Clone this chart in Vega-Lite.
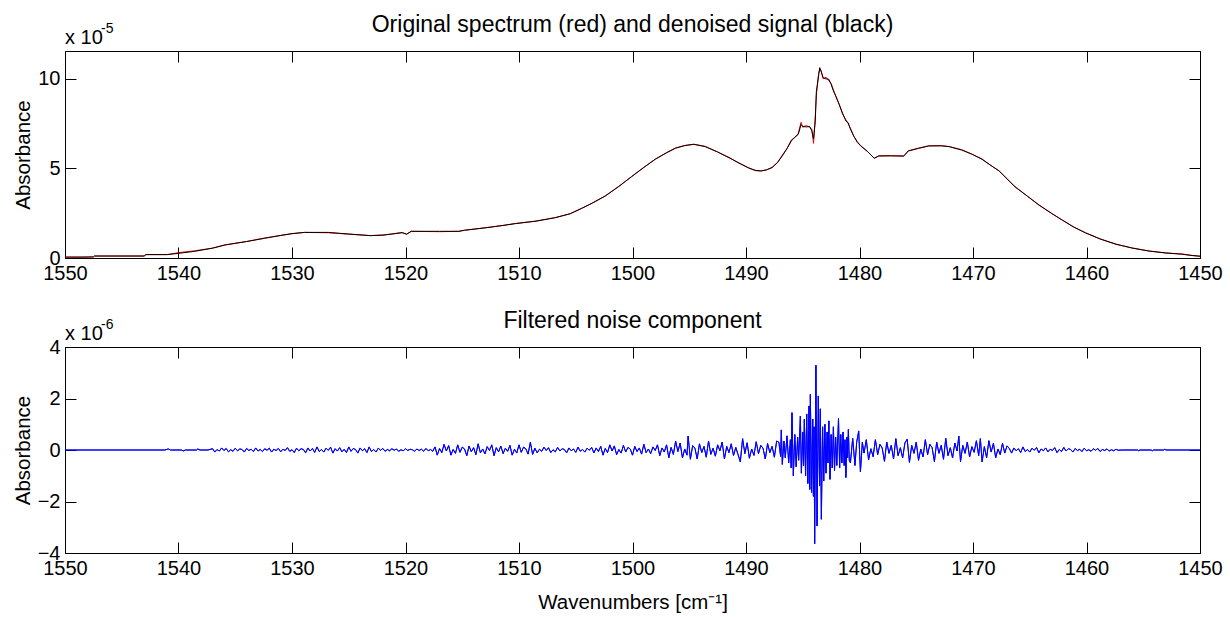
{
  "$schema": "https://vega.github.io/schema/vega-lite/v6.json",
  "background": "white",
  "padding": {"left": 12, "top": 13, "right": 5, "bottom": 2},
  "spacing": 89,
  "bounds": "flush",
  "config": {
    "font": "Liberation Sans",
    "view": {"stroke": "black", "strokeWidth": 1},
    "axis": {
      "grid": false,
      "domain": false,
      "tickColor": "black",
      "tickSize": -11,
      "labelFontSize": 20,
      "labelColor": "black",
      "labelFont": "Liberation Sans",
      "titleFont": "Liberation Sans",
      "titleFontSize": 20.5,
      "titleFontWeight": "normal",
      "titleColor": "black",
      "labelFlush": false,
      "labelOverlap": false,
      "format": "d"
    },
    "axisX": {"labelPadding": 16},
    "axisY": {"labelPadding": 16},
    "title": {
      "font": "Liberation Sans",
      "fontSize": 23,
      "fontWeight": "normal",
      "color": "black",
      "frame": "group",
      "anchor": "middle",
      "offset": -15
    }
  },
  "datasets": {
    "spec": [
      {"w": 1550, "d": 0.05, "o": 0.05},
      {"w": 1548.5, "d": 0.05, "o": 0.05},
      {"w": 1547.5, "d": 0.06, "o": 0.06},
      {"w": 1547.4, "d": 0.11, "o": 0.11},
      {"w": 1543, "d": 0.11, "o": 0.11},
      {"w": 1542.9, "d": 0.19, "o": 0.19},
      {"w": 1541, "d": 0.19, "o": 0.19},
      {"w": 1540, "d": 0.26, "o": 0.3},
      {"w": 1538.6, "d": 0.37, "o": 0.4},
      {"w": 1537, "d": 0.55, "o": 0.55},
      {"w": 1535.9, "d": 0.73, "o": 0.73},
      {"w": 1534, "d": 0.92, "o": 0.92},
      {"w": 1532.4, "d": 1.1, "o": 1.12},
      {"w": 1531, "d": 1.26, "o": 1.26},
      {"w": 1530, "d": 1.36, "o": 1.36},
      {"w": 1528.9, "d": 1.43, "o": 1.43},
      {"w": 1526.8, "d": 1.43, "o": 1.41},
      {"w": 1525, "d": 1.34, "o": 1.33},
      {"w": 1523.1, "d": 1.25, "o": 1.25},
      {"w": 1522, "d": 1.27, "o": 1.29},
      {"w": 1521.2, "d": 1.34, "o": 1.34},
      {"w": 1520.3, "d": 1.41, "o": 1.43},
      {"w": 1519.9, "d": 1.33, "o": 1.33},
      {"w": 1519.5, "d": 1.49, "o": 1.49},
      {"w": 1517, "d": 1.49, "o": 1.47},
      {"w": 1515.3, "d": 1.49, "o": 1.49},
      {"w": 1514.8, "d": 1.55, "o": 1.55},
      {"w": 1513, "d": 1.68, "o": 1.69},
      {"w": 1511.5, "d": 1.81, "o": 1.81},
      {"w": 1510.3, "d": 1.92, "o": 1.93},
      {"w": 1508.5, "d": 2.06, "o": 2.06},
      {"w": 1506.8, "d": 2.25, "o": 2.26},
      {"w": 1505.5, "d": 2.47, "o": 2.47},
      {"w": 1504.5, "d": 2.77, "o": 2.76},
      {"w": 1503.5, "d": 3.08, "o": 3.08},
      {"w": 1502.4, "d": 3.46, "o": 3.47},
      {"w": 1501.2, "d": 4.0, "o": 4.0},
      {"w": 1500.1, "d": 4.53, "o": 4.54},
      {"w": 1499, "d": 5.06, "o": 5.06},
      {"w": 1498, "d": 5.51, "o": 5.52},
      {"w": 1497, "d": 5.88, "o": 5.88},
      {"w": 1496.2, "d": 6.13, "o": 6.15},
      {"w": 1495.4, "d": 6.28, "o": 6.28},
      {"w": 1494.6, "d": 6.35, "o": 6.35},
      {"w": 1493.6, "d": 6.22, "o": 6.24},
      {"w": 1492.5, "d": 5.92, "o": 5.92},
      {"w": 1491.5, "d": 5.6, "o": 5.62},
      {"w": 1490.7, "d": 5.33, "o": 5.33},
      {"w": 1489.8, "d": 5.04, "o": 5.04},
      {"w": 1489.2, "d": 4.9, "o": 4.88},
      {"w": 1488.7, "d": 4.86, "o": 4.86},
      {"w": 1488.2, "d": 4.92, "o": 4.92},
      {"w": 1487.7, "d": 5.05, "o": 5.06},
      {"w": 1487.2, "d": 5.35, "o": 5.35},
      {"w": 1486.8, "d": 5.7, "o": 5.75},
      {"w": 1486.4, "d": 6.1, "o": 6.1},
      {"w": 1486.0, "d": 6.54, "o": 6.6},
      {"w": 1485.7, "d": 6.75, "o": 6.72},
      {"w": 1485.4, "d": 6.9, "o": 6.95},
      {"w": 1485.15, "d": 7.45, "o": 7.58},
      {"w": 1485.0, "d": 7.35, "o": 7.3},
      {"w": 1484.7, "d": 7.32, "o": 7.4},
      {"w": 1484.4, "d": 7.35, "o": 7.3},
      {"w": 1484.2, "d": 7.1, "o": 7.2},
      {"w": 1484.05, "d": 6.65, "o": 6.4},
      {"w": 1483.9, "d": 7.6, "o": 7.9},
      {"w": 1483.8, "d": 9.3, "o": 9.1},
      {"w": 1483.6, "d": 10.2, "o": 10.3},
      {"w": 1483.5, "d": 10.63, "o": 10.55},
      {"w": 1483.4, "d": 10.45, "o": 10.5},
      {"w": 1483.2, "d": 10.07, "o": 10.0},
      {"w": 1482.95, "d": 10.0, "o": 10.1},
      {"w": 1482.7, "d": 9.98, "o": 9.9},
      {"w": 1482.5, "d": 9.7, "o": 9.75},
      {"w": 1482.3, "d": 9.33, "o": 9.4},
      {"w": 1482.05, "d": 9.0, "o": 8.95},
      {"w": 1481.8, "d": 8.58, "o": 8.62},
      {"w": 1481.5, "d": 8.1, "o": 8.05},
      {"w": 1481.2, "d": 7.65, "o": 7.72},
      {"w": 1481.0, "d": 7.56, "o": 7.5},
      {"w": 1480.8, "d": 7.2, "o": 7.25},
      {"w": 1480.5, "d": 6.8, "o": 6.8},
      {"w": 1480.2, "d": 6.5, "o": 6.45},
      {"w": 1479.9, "d": 6.26, "o": 6.28},
      {"w": 1479.3, "d": 5.95, "o": 5.95},
      {"w": 1478.7, "d": 5.57, "o": 5.57},
      {"w": 1478.3, "d": 5.7, "o": 5.7},
      {"w": 1477.2, "d": 5.7, "o": 5.72},
      {"w": 1476.1, "d": 5.7, "o": 5.68},
      {"w": 1475.7, "d": 5.98, "o": 5.98},
      {"w": 1474.8, "d": 6.12, "o": 6.14},
      {"w": 1473.9, "d": 6.26, "o": 6.26},
      {"w": 1472.8, "d": 6.26, "o": 6.28},
      {"w": 1472.1, "d": 6.22, "o": 6.22},
      {"w": 1471.0, "d": 6.03, "o": 6.05},
      {"w": 1470.1, "d": 5.8, "o": 5.8},
      {"w": 1469.2, "d": 5.51, "o": 5.53},
      {"w": 1468.5, "d": 5.2, "o": 5.2},
      {"w": 1467.7, "d": 4.86, "o": 4.87},
      {"w": 1467.0, "d": 4.42, "o": 4.42},
      {"w": 1466.3, "d": 3.97, "o": 3.99},
      {"w": 1465.2, "d": 3.45, "o": 3.45},
      {"w": 1464.2, "d": 2.96, "o": 2.97},
      {"w": 1463.1, "d": 2.5, "o": 2.5},
      {"w": 1462.1, "d": 2.1, "o": 2.11},
      {"w": 1461.1, "d": 1.72, "o": 1.72},
      {"w": 1460.1, "d": 1.41, "o": 1.41},
      {"w": 1458.8, "d": 1.06, "o": 1.07},
      {"w": 1457.4, "d": 0.77, "o": 0.77},
      {"w": 1456, "d": 0.56, "o": 0.56},
      {"w": 1454.5, "d": 0.39, "o": 0.39},
      {"w": 1453, "d": 0.28, "o": 0.28},
      {"w": 1451.6, "d": 0.21, "o": 0.23},
      {"w": 1450.7, "d": 0.14, "o": 0.14},
      {"w": 1450, "d": 0.1, "o": 0.1}
    ],
    "noise": [
      {"w": 1550, "n": 0}, {"w": 1541.2, "n": 0}, {"w": 1540.9, "n": 0.04}, {"w": 1540.7, "n": 0},
      {"w": 1539.7, "n": 0}, {"w": 1539.6, "n": -0.04}, {"w": 1539.4, "n": 0}, {"w": 1538.4, "n": 0},
      {"w": 1538.3, "n": 0.04}, {"w": 1538.1, "n": 0}, {"w": 1537.4, "n": 0},
      {"w": 1537.0, "n": 0.05}, {"w": 1536.8, "n": -0.08}, {"w": 1536.6, "n": 0.02}, {"w": 1536.4, "n": -0.04},
      {"w": 1536.2, "n": 0.08}, {"w": 1536.0, "n": -0.02}, {"w": 1535.8, "n": 0.06}, {"w": 1535.6, "n": -0.07},
      {"w": 1535.4, "n": 0.01}, {"w": 1535.2, "n": -0.05}, {"w": 1535.0, "n": 0.07}, {"w": 1534.8, "n": -0.03},
      {"w": 1534.6, "n": 0.04}, {"w": 1534.4, "n": 0.02}, {"w": 1534.2, "n": -0.08}, {"w": 1534.0, "n": 0.06},
      {"w": 1533.8, "n": -0.02}, {"w": 1533.6, "n": 0.03}, {"w": 1533.4, "n": -0.06}, {"w": 1533.2, "n": 0.08},
      {"w": 1533.0, "n": -0.04}, {"w": 1532.8, "n": 0.02}, {"w": 1532.6, "n": -0.06}, {"w": 1532.4, "n": 0.05},
      {"w": 1532.2, "n": -0.01}, {"w": 1532.0, "n": 0.07}, {"w": 1531.8, "n": -0.08}, {"w": 1531.6, "n": 0.03},
      {"w": 1531.4, "n": -0.02}, {"w": 1531.2, "n": 0.06}, {"w": 1531.0, "n": -0.07}, {"w": 1530.8, "n": 0.03},
      {"w": 1530.6, "n": -0.02}, {"w": 1530.4, "n": 0.09}, {"w": 1530.2, "n": -0.05}, {"w": 1530.0, "n": 0.01},
      {"w": 1529.8, "n": -0.1}, {"w": 1529.6, "n": 0.07}, {"w": 1529.4, "n": -0.03}, {"w": 1529.2, "n": 0.05},
      {"w": 1529.0, "n": 0.02}, {"w": 1528.8, "n": -0.11}, {"w": 1528.6, "n": 0.08}, {"w": 1528.4, "n": -0.04},
      {"w": 1528.2, "n": 0.06}, {"w": 1528.0, "n": -0.09}, {"w": 1527.8, "n": 0.12}, {"w": 1527.6, "n": -0.06},
      {"w": 1527.4, "n": 0.02}, {"w": 1527.2, "n": -0.08}, {"w": 1527.0, "n": 0.07}, {"w": 1526.8, "n": -0.01},
      {"w": 1526.6, "n": 0.11}, {"w": 1526.4, "n": -0.12}, {"w": 1526.2, "n": 0.05}, {"w": 1526.0, "n": -0.04},
      {"w": 1525.8, "n": 0.09}, {"w": 1525.6, "n": -0.07}, {"w": 1525.4, "n": 0.03}, {"w": 1525.2, "n": -0.1},
      {"w": 1525.0, "n": 0.12}, {"w": 1524.8, "n": -0.05}, {"w": 1524.6, "n": 0.06}, {"w": 1524.4, "n": 0.02},
      {"w": 1524.2, "n": -0.12}, {"w": 1524.0, "n": 0.08}, {"w": 1523.8, "n": -0.03}, {"w": 1523.6, "n": 0.05},
      {"w": 1523.4, "n": -0.1}, {"w": 1523.2, "n": 0.12}, {"w": 1523.0, "n": -0.06}, {"w": 1522.8, "n": 0.02},
      {"w": 1522.6, "n": -0.08}, {"w": 1522.4, "n": 0.07}, {"w": 1522.2, "n": -0.01},
      {"w": 1522.0, "n": 0.06}, {"w": 1521.8, "n": -0.05}, {"w": 1521.6, "n": 0.02}, {"w": 1521.4, "n": -0.03},
      {"w": 1521.2, "n": 0.05}, {"w": 1521.0, "n": -0.01}, {"w": 1520.8, "n": 0.04}, {"w": 1520.6, "n": -0.05},
      {"w": 1520.4, "n": 0.01}, {"w": 1520.2, "n": -0.03}, {"w": 1520.0, "n": 0.05}, {"w": 1519.8, "n": -0.02},
      {"w": 1519.6, "n": 0.03}, {"w": 1519.4, "n": 0.01}, {"w": 1519.2, "n": -0.05}, {"w": 1519.0, "n": 0.04},
      {"w": 1518.8, "n": -0.02}, {"w": 1518.6, "n": 0.03}, {"w": 1518.4, "n": -0.05}, {"w": 1518.2, "n": 0.06},
      {"w": 1518.0, "n": -0.03}, {"w": 1517.8, "n": 0.02}, {"w": 1517.6, "n": -0.05},
      {"w": 1517.4, "n": 0.12}, {"w": 1517.2, "n": -0.2}, {"w": 1517.0, "n": 0.06}, {"w": 1516.8, "n": -0.1},
      {"w": 1516.6, "n": 0.22}, {"w": 1516.4, "n": -0.04}, {"w": 1516.2, "n": 0.17}, {"w": 1516.0, "n": -0.2},
      {"w": 1515.8, "n": 0.02}, {"w": 1515.6, "n": -0.13}, {"w": 1515.4, "n": 0.2}, {"w": 1515.2, "n": -0.09},
      {"w": 1515.0, "n": 0.11}, {"w": 1514.8, "n": 0.04}, {"w": 1514.6, "n": -0.22}, {"w": 1514.4, "n": 0.15},
      {"w": 1514.2, "n": -0.07}, {"w": 1514.0, "n": 0.09}, {"w": 1513.8, "n": -0.18}, {"w": 1513.6, "n": 0.24},
      {"w": 1513.4, "n": -0.11}, {"w": 1513.2, "n": 0.04}, {"w": 1513.0, "n": -0.15}, {"w": 1512.8, "n": 0.13},
      {"w": 1512.6, "n": -0.02}, {"w": 1512.4, "n": 0.2}, {"w": 1512.2, "n": -0.22}, {"w": 1512.0, "n": 0.09},
      {"w": 1511.8, "n": -0.07}, {"w": 1511.6, "n": 0.15}, {"w": 1511.4, "n": -0.14}, {"w": 1511.2, "n": 0.07},
      {"w": 1511.0, "n": -0.05}, {"w": 1510.8, "n": 0.18}, {"w": 1510.6, "n": -0.2}, {"w": 1510.4, "n": 0.03},
      {"w": 1510.2, "n": -0.12}, {"w": 1510.0, "n": 0.2}, {"w": 1509.8, "n": -0.09}, {"w": 1509.6, "n": 0.11},
      {"w": 1509.4, "n": 0.05}, {"w": 1509.2, "n": -0.16}, {"w": 1509.0, "n": 0.3}, {"w": 1508.8, "n": -0.17},
      {"w": 1508.6, "n": 0.07}, {"w": 1508.4, "n": -0.11}, {"w": 1508.2, "n": 0.03}, {"w": 1508.0, "n": -0.05},
      {"w": 1507.8, "n": 0.11}, {"w": 1507.6, "n": -0.02}, {"w": 1507.4, "n": 0.09}, {"w": 1507.2, "n": -0.1},
      {"w": 1507.0, "n": 0.01}, {"w": 1506.8, "n": -0.07}, {"w": 1506.6, "n": 0.1}, {"w": 1506.4, "n": -0.04},
      {"w": 1506.2, "n": 0.05}, {"w": 1506.0, "n": 0.02}, {"w": 1505.8, "n": -0.11}, {"w": 1505.6, "n": 0.08},
      {"w": 1505.4, "n": -0.03}, {"w": 1505.2, "n": 0.04}, {"w": 1505.0, "n": -0.09}, {"w": 1504.8, "n": 0.11},
      {"w": 1504.6, "n": -0.05}, {"w": 1504.4, "n": 0.02}, {"w": 1504.2, "n": -0.08}, {"w": 1504.0, "n": 0.07},
      {"w": 1503.8, "n": -0.01}, {"w": 1503.6, "n": 0.1}, {"w": 1503.4, "n": -0.11},
      {"w": 1503.2, "n": 0.08}, {"w": 1503.0, "n": -0.06}, {"w": 1502.8, "n": 0.14}, {"w": 1502.6, "n": -0.2},
      {"w": 1502.4, "n": 0.06}, {"w": 1502.2, "n": -0.1}, {"w": 1502.0, "n": 0.2}, {"w": 1501.8, "n": -0.04},
      {"w": 1501.6, "n": 0.16}, {"w": 1501.4, "n": -0.18}, {"w": 1501.2, "n": 0.02}, {"w": 1501.0, "n": -0.12},
      {"w": 1500.8, "n": 0.18}, {"w": 1500.6, "n": -0.08}, {"w": 1500.4, "n": 0.1}, {"w": 1500.2, "n": 0.04},
      {"w": 1500.0, "n": -0.2}, {"w": 1499.8, "n": 0.14}, {"w": 1499.6, "n": -0.06}, {"w": 1499.4, "n": 0.08},
      {"w": 1499.2, "n": -0.16}, {"w": 1499.0, "n": 0.22}, {"w": 1498.8, "n": -0.1}, {"w": 1498.6, "n": 0.04},
      {"w": 1498.4, "n": -0.14}, {"w": 1498.2, "n": 0.12}, {"w": 1498.0, "n": -0.02}, {"w": 1497.8, "n": 0.2},
      {"w": 1497.6, "n": -0.22}, {"w": 1497.4, "n": 0.08},
      {"w": 1497.2, "n": -0.08}, {"w": 1497.0, "n": 0.2}, {"w": 1496.8, "n": -0.3}, {"w": 1496.6, "n": 0.1},
      {"w": 1496.4, "n": -0.17}, {"w": 1496.2, "n": 0.34}, {"w": 1496.0, "n": -0.06}, {"w": 1495.8, "n": 0.27},
      {"w": 1495.6, "n": -0.31}, {"w": 1495.4, "n": 0.04}, {"w": 1495.2, "n": -0.2}, {"w": 1495.1, "n": 0.54},
      {"w": 1494.9, "n": -0.36}, {"w": 1494.7, "n": 0.17}, {"w": 1494.5, "n": 0.07}, {"w": 1494.3, "n": -0.35},
      {"w": 1494.1, "n": 0.24}, {"w": 1493.9, "n": -0.1}, {"w": 1493.7, "n": 0.14}, {"w": 1493.5, "n": -0.28},
      {"w": 1493.3, "n": 0.35}, {"w": 1493.1, "n": -0.17}, {"w": 1492.9, "n": 0.07}, {"w": 1492.7, "n": -0.24},
      {"w": 1492.5, "n": 0.2}, {"w": 1492.3, "n": -0.03}, {"w": 1492.1, "n": 0.31}, {"w": 1491.9, "n": -0.35},
      {"w": 1491.7, "n": 0.14}, {"w": 1491.5, "n": -0.1}, {"w": 1491.3, "n": 0.24}, {"w": 1491.1, "n": -0.21},
      {"w": 1490.9, "n": 0.1}, {"w": 1490.7, "n": -0.18}, {"w": 1490.5, "n": -0.46}, {"w": 1490.3, "n": 0.44},
      {"w": 1490.1, "n": -0.14}, {"w": 1489.9, "n": 0.28}, {"w": 1489.7, "n": -0.32}, {"w": 1489.5, "n": 0.04},
      {"w": 1489.3, "n": -0.21}, {"w": 1489.1, "n": 0.32}, {"w": 1488.9, "n": -0.14}, {"w": 1488.7, "n": 0.18},
      {"w": 1488.5, "n": 0.07}, {"w": 1488.3, "n": -0.35}, {"w": 1488.1, "n": 0.25}, {"w": 1487.9, "n": -0.1},
      {"w": 1487.7, "n": 0.14}, {"w": 1487.5, "n": -0.28}, {"w": 1487.3, "n": 0.35},
      {"w": 1487.1, "n": 0.3}, {"w": 1486.95, "n": -0.25}, {"w": 1486.89, "n": 0.78}, {"w": 1486.8, "n": -0.56},
      {"w": 1486.66, "n": 0.35}, {"w": 1486.54, "n": -0.3}, {"w": 1486.39, "n": 0.55}, {"w": 1486.24, "n": -0.5},
      {"w": 1486.09, "n": 0.4}, {"w": 1486.02, "n": -0.7}, {"w": 1485.95, "n": 1.45}, {"w": 1485.83, "n": -1.0},
      {"w": 1485.7, "n": 0.6}, {"w": 1485.58, "n": -0.65}, {"w": 1485.45, "n": 0.5}, {"w": 1485.36, "n": -0.4},
      {"w": 1485.21, "n": 1.32}, {"w": 1485.12, "n": -0.9}, {"w": 1485.0, "n": 0.7}, {"w": 1484.93, "n": -0.6},
      {"w": 1484.86, "n": 1.19}, {"w": 1484.75, "n": -1.0}, {"w": 1484.65, "n": 1.4}, {"w": 1484.55, "n": -1.3},
      {"w": 1484.45, "n": 1.71}, {"w": 1484.38, "n": -1.53}, {"w": 1484.33, "n": 2.16}, {"w": 1484.22, "n": -1.65},
      {"w": 1484.12, "n": 1.2}, {"w": 1484.06, "n": -1.8}, {"w": 1484.0, "n": 0.9}, {"w": 1483.95, "n": -3.64},
      {"w": 1483.84, "n": 3.29}, {"w": 1483.74, "n": -2.95}, {"w": 1483.63, "n": 2.1}, {"w": 1483.52, "n": -1.4},
      {"w": 1483.45, "n": 1.6}, {"w": 1483.36, "n": -2.69}, {"w": 1483.25, "n": 0.9}, {"w": 1483.15, "n": -1.2},
      {"w": 1483.05, "n": 1.0}, {"w": 1482.95, "n": -0.9}, {"w": 1482.85, "n": 0.7}, {"w": 1482.78, "n": -0.5},
      {"w": 1482.7, "n": 1.13}, {"w": 1482.6, "n": -1.14}, {"w": 1482.5, "n": 0.6}, {"w": 1482.4, "n": -0.7},
      {"w": 1482.3, "n": 0.9}, {"w": 1482.2, "n": -0.8}, {"w": 1482.1, "n": 0.5}, {"w": 1482.0, "n": -0.6},
      {"w": 1481.85, "n": 1.22}, {"w": 1481.75, "n": -0.7}, {"w": 1481.65, "n": 0.6}, {"w": 1481.55, "n": -0.5},
      {"w": 1481.45, "n": 0.7}, {"w": 1481.35, "n": -0.6}, {"w": 1481.28, "n": 0.4}, {"w": 1481.2, "n": -1.07},
      {"w": 1481.1, "n": 0.5}, {"w": 1481.05, "n": -0.3}, {"w": 1480.98, "n": 0.8}, {"w": 1480.9, "n": -0.4},
      {"w": 1480.8, "n": -0.5}, {"w": 1480.6, "n": 0.45}, {"w": 1480.4, "n": -0.6}, {"w": 1480.25, "n": 0.3},
      {"w": 1480.07, "n": 0.74}, {"w": 1479.92, "n": -0.85}, {"w": 1479.75, "n": 0.3}, {"w": 1479.6, "n": -0.12},
      {"w": 1479.4, "n": 0.4}, {"w": 1479.2, "n": -0.38}, {"w": 1479.0, "n": 0.05}, {"w": 1478.8, "n": -0.26},
      {"w": 1478.6, "n": 0.4}, {"w": 1478.4, "n": -0.18}, {"w": 1478.2, "n": 0.22}, {"w": 1478.0, "n": 0.08},
      {"w": 1477.8, "n": -0.44}, {"w": 1477.6, "n": 0.31}, {"w": 1477.4, "n": -0.13}, {"w": 1477.2, "n": 0.18},
      {"w": 1477.0, "n": -0.35}, {"w": 1476.8, "n": 0.44}, {"w": 1476.6, "n": -0.22}, {"w": 1476.4, "n": 0.09},
      {"w": 1476.2, "n": -0.31}, {"w": 1476.0, "n": 0.27}, {"w": 1475.8, "n": 0.42}, {"w": 1475.6, "n": -0.48},
      {"w": 1475.4, "n": 0.18}, {"w": 1475.2, "n": -0.13}, {"w": 1475.0, "n": 0.31}, {"w": 1474.8, "n": -0.4},
      {"w": 1474.6, "n": 0.04}, {"w": 1474.4, "n": -0.27}, {"w": 1474.2, "n": 0.4}, {"w": 1474.0, "n": -0.18},
      {"w": 1473.8, "n": 0.22}, {"w": 1473.6, "n": 0.09}, {"w": 1473.4, "n": -0.45}, {"w": 1473.2, "n": 0.31},
      {"w": 1473.0, "n": -0.13}, {"w": 1472.8, "n": 0.18}, {"w": 1472.6, "n": -0.36}, {"w": 1472.4, "n": 0.45},
      {"w": 1472.2, "n": -0.22}, {"w": 1472.0, "n": 0.09}, {"w": 1471.8, "n": -0.31}, {"w": 1471.6, "n": 0.27},
      {"w": 1471.4, "n": -0.04}, {"w": 1471.25, "n": 0.54}, {"w": 1471.1, "n": -0.45}, {"w": 1470.9, "n": 0.18},
      {"w": 1470.7, "n": -0.13}, {"w": 1470.5, "n": 0.31}, {"w": 1470.3, "n": -0.27}, {"w": 1470.1, "n": 0.13},
      {"w": 1469.9, "n": -0.09}, {"w": 1469.7, "n": 0.36}, {"w": 1469.5, "n": -0.22}, {"w": 1469.35, "n": 0.44},
      {"w": 1469.2, "n": -0.46}, {"w": 1469.0, "n": 0.13}, {"w": 1468.8, "n": -0.3}, {"w": 1468.6, "n": 0.36},
      {"w": 1468.4, "n": -0.08}, {"w": 1468.2, "n": 0.26}, {"w": 1468.0, "n": -0.3}, {"w": 1467.8, "n": 0.04},
      {"w": 1467.6, "n": -0.18}, {"w": 1467.4, "n": 0.26}, {"w": 1467.2, "n": -0.12}, {"w": 1467.0, "n": 0.16},
      {"w": 1466.8, "n": 0.06},
      {"w": 1466.6, "n": -0.12}, {"w": 1466.4, "n": 0.08}, {"w": 1466.2, "n": -0.03}, {"w": 1466.0, "n": 0.05},
      {"w": 1465.8, "n": -0.1}, {"w": 1465.6, "n": 0.12}, {"w": 1465.4, "n": -0.06}, {"w": 1465.2, "n": 0.02},
      {"w": 1465.0, "n": -0.08}, {"w": 1464.8, "n": 0.07}, {"w": 1464.6, "n": -0.01}, {"w": 1464.4, "n": 0.1},
      {"w": 1464.2, "n": -0.11}, {"w": 1464.0, "n": 0.04}, {"w": 1463.8, "n": -0.03}, {"w": 1463.6, "n": 0.08},
      {"w": 1463.4, "n": -0.07}, {"w": 1463.2, "n": 0.03}, {"w": 1463.0, "n": -0.02}, {"w": 1462.8, "n": 0.09},
      {"w": 1462.6, "n": -0.1}, {"w": 1462.4, "n": 0.02}, {"w": 1462.2, "n": -0.06}, {"w": 1462.0, "n": 0.1},
      {"w": 1461.8, "n": -0.04}, {"w": 1461.6, "n": 0.05}, {"w": 1461.4, "n": 0.02}, {"w": 1461.2, "n": -0.08},
      {"w": 1461.0, "n": 0.06}, {"w": 1460.8, "n": -0.02}, {"w": 1460.6, "n": 0.03}, {"w": 1460.4, "n": -0.06},
      {"w": 1460.2, "n": 0.07}, {"w": 1460.0, "n": -0.03}, {"w": 1459.8, "n": 0.01}, {"w": 1459.6, "n": -0.05},
      {"w": 1459.4, "n": 0.05}, {"w": 1459.2, "n": -0.01}, {"w": 1459.0, "n": 0.06}, {"w": 1458.8, "n": -0.06},
      {"w": 1458.6, "n": 0.02}, {"w": 1458.4, "n": -0.02}, {"w": 1458.2, "n": 0.04}, {"w": 1458.0, "n": -0.04},
      {"w": 1457.8, "n": 0.01}, {"w": 1457.6, "n": -0.03}, {"w": 1457.4, "n": 0.03}, {"w": 1457.2, "n": -0.01},
      {"w": 1456.9, "n": 0}, {"w": 1455.5, "n": 0}, {"w": 1455.4, "n": -0.03}, {"w": 1455.3, "n": 0},
      {"w": 1454.3, "n": 0}, {"w": 1454.2, "n": -0.03}, {"w": 1454.1, "n": 0}, {"w": 1453.2, "n": 0},
      {"w": 1453.1, "n": 0.03}, {"w": 1453.0, "n": 0}, {"w": 1450, "n": 0}
    ]
  },
  "vconcat": [
    {
      "width": 1135,
      "height": 207,
      "title": {"text": "Original spectrum (red) and denoised signal (black)"},
      "layer": [
        {
          "data": {"name": "spec"},
          "mark": {"type": "line", "color": "#ff0000", "strokeWidth": 1},
          "encoding": {
            "x": {"field": "w", "type": "quantitative", "scale": {"domain": [1450, 1550], "reverse": true, "nice": false, "zero": false},
                  "axis": {"orient": "bottom", "values": [1550, 1540, 1530, 1520, 1510, 1500, 1490, 1480, 1470, 1460, 1450], "title": null}},
            "y": {"field": "o", "type": "quantitative", "scale": {"domain": [0, 11.56], "nice": false, "zero": false},
                  "axis": {"orient": "left", "values": [0, 5, 10], "title": "Absorbance", "titlePadding": 4}}
          }
        },
        {
          "data": {"name": "spec"},
          "mark": {"type": "line", "color": "#000000", "strokeWidth": 1},
          "encoding": {
            "x": {"field": "w", "type": "quantitative", "axis": {"orient": "top", "values": [1550, 1540, 1530, 1520, 1510, 1500, 1490, 1480, 1470, 1460, 1450], "labels": false, "title": null}},
            "y": {"field": "d", "type": "quantitative", "axis": {"orient": "right", "values": [0, 5, 10], "labels": false, "title": null}}
          }
        },
        {
          "data": {"values": [{"t": "x 10"}]},
          "mark": {"type": "text", "align": "left", "baseline": "alphabetic", "fontSize": 20, "dy": -7, "color": "black"},
          "encoding": {
            "text": {"field": "t"},
            "x": {"datum": 1550, "type": "quantitative", "axis": null},
            "y": {"datum": 11.56, "type": "quantitative", "axis": null}
          }
        },
        {
          "data": {"values": [{"t": "-5"}]},
          "mark": {"type": "text", "align": "left", "baseline": "alphabetic", "fontSize": 14, "dx": 36, "dy": -18, "color": "black"},
          "encoding": {
            "text": {"field": "t"},
            "x": {"datum": 1550, "type": "quantitative", "axis": null},
            "y": {"datum": 11.56, "type": "quantitative", "axis": null}
          }
        }
      ],
      "resolve": {"axis": {"x": "independent", "y": "independent"}}
    },
    {
      "width": 1135,
      "height": 206,
      "title": {"text": "Filtered noise component"},
      "layer": [
        {
          "data": {"name": "noise"},
          "mark": {"type": "line", "color": "#0000ff", "strokeWidth": 1},
          "encoding": {
            "x": {"field": "w", "type": "quantitative", "scale": {"domain": [1450, 1550], "reverse": true, "nice": false, "zero": false},
                  "axis": {"orient": "bottom", "values": [1550, 1540, 1530, 1520, 1510, 1500, 1490, 1480, 1470, 1460, 1450], "title": "Wavenumbers [cm⁻¹]", "titlePadding": 14}},
            "y": {"field": "n", "type": "quantitative", "scale": {"domain": [-4, 4], "nice": false, "zero": false},
                  "axis": {"orient": "left", "values": [-4, -2, 0, 2, 4], "title": "Absorbance", "titlePadding": 4}}
          }
        },
        {
          "data": {"name": "noise"},
          "mark": {"type": "line", "color": "#0000ff", "strokeWidth": 1},
          "encoding": {
            "x": {"field": "w", "type": "quantitative", "axis": {"orient": "top", "values": [1550, 1540, 1530, 1520, 1510, 1500, 1490, 1480, 1470, 1460, 1450], "labels": false, "title": null}},
            "y": {"field": "n", "type": "quantitative", "axis": {"orient": "right", "values": [-4, -2, 0, 2, 4], "labels": false, "title": null}}
          }
        },
        {
          "data": {"values": [{"t": "x 10"}]},
          "mark": {"type": "text", "align": "left", "baseline": "alphabetic", "fontSize": 20, "dy": -7, "color": "black"},
          "encoding": {
            "text": {"field": "t"},
            "x": {"datum": 1550, "type": "quantitative", "axis": null},
            "y": {"datum": 4, "type": "quantitative", "axis": null}
          }
        },
        {
          "data": {"values": [{"t": "-6"}]},
          "mark": {"type": "text", "align": "left", "baseline": "alphabetic", "fontSize": 14, "dx": 36, "dy": -18, "color": "black"},
          "encoding": {
            "text": {"field": "t"},
            "x": {"datum": 1550, "type": "quantitative", "axis": null},
            "y": {"datum": 4, "type": "quantitative", "axis": null}
          }
        }
      ],
      "resolve": {"axis": {"x": "independent", "y": "independent"}}
    }
  ]
}
